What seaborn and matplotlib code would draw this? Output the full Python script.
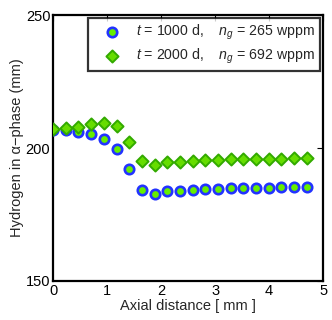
import numpy as np
import pandas as pd
import seaborn as sns
import matplotlib
matplotlib.use('Agg')
import matplotlib.pyplot as plt

# Data
x_mm = [0.00, 0.235, 0.47, 0.705, 0.94, 1.175, 1.41, 1.645, 1.88, 2.115, 2.35,
        2.585, 2.82, 3.055, 3.29, 3.525, 3.76, 3.995, 4.23, 4.465, 4.70]
h_1000 = [206.8, 206.8, 206.1, 205.3, 203.4, 199.6, 192.0, 184.2, 182.6, 183.9, 183.9,
          184.2, 184.4, 184.6, 184.8, 184.9, 185.0, 185.1, 185.2, 185.3, 185.4]
h_2000 = [207.2, 207.4, 207.8, 209.0, 209.5, 208.3, 202.4, 195.1, 193.6, 194.6, 194.6,
          195.1, 195.4, 195.5, 195.7, 195.8, 195.9, 196.0, 196.0, 196.1, 196.1]
labels = [r'$t$ = 1000 d,    $n_g$ = 265 wppm',
          r'$t$ = 2000 d,    $n_g$ = 692 wppm']

sns.set_style('white')
plt.rcParams['font.family'] = ['Liberation Sans', 'DejaVu Sans']
plt.rcParams['mathtext.fontset'] = 'custom'
plt.rcParams['mathtext.rm'] = 'Liberation Sans'
plt.rcParams['mathtext.it'] = 'Liberation Sans:italic'

df = pd.DataFrame({'x': x_mm, 'h1': h_1000, 'h2': h_2000})

fig = plt.figure(figsize=(3.32, 3.20), dpi=100)
ax = fig.add_axes([0.16, 0.122, 0.813, 0.831])

sns.scatterplot(data=df, x='x', y='h1', ax=ax, marker='o', s=46,
                color='#66ee00', edgecolor='#2233ff', linewidth=1.9,
                label=labels[0], zorder=3)
sns.scatterplot(data=df, x='x', y='h2', ax=ax, marker='D', s=38,
                color='#66dd00', edgecolor='#33aa00', linewidth=1.4,
                label=labels[1], zorder=4)

ax.set_xlim(0, 5)
ax.set_ylim(150, 250)
ax.set_xticks([0, 1, 2, 3, 4, 5])
ax.set_yticks([150, 200, 250])
ax.tick_params(direction='in', top=True, right=True, length=4, width=0.8,
               labelsize=10.5, pad=2, colors='black')
for sp in ax.spines.values():
    sp.set_linewidth(1.6)
    sp.set_color('black')
ax.set_xlabel('Axial distance [ mm ]', fontsize=10.5, labelpad=1)
ax.set_ylabel('Hydrogen in α−phase (mm)', fontsize=10.5, labelpad=1)

leg = ax.legend(loc='upper right', fontsize=10.2, frameon=True, fancybox=False,
                borderaxespad=0.2, handletextpad=0.4, borderpad=0.35,
                labelspacing=0.3, handlelength=2.7)
leg.get_frame().set_edgecolor('black')
leg.get_frame().set_linewidth(1.6)

fig.savefig('out.png', dpi=100)
